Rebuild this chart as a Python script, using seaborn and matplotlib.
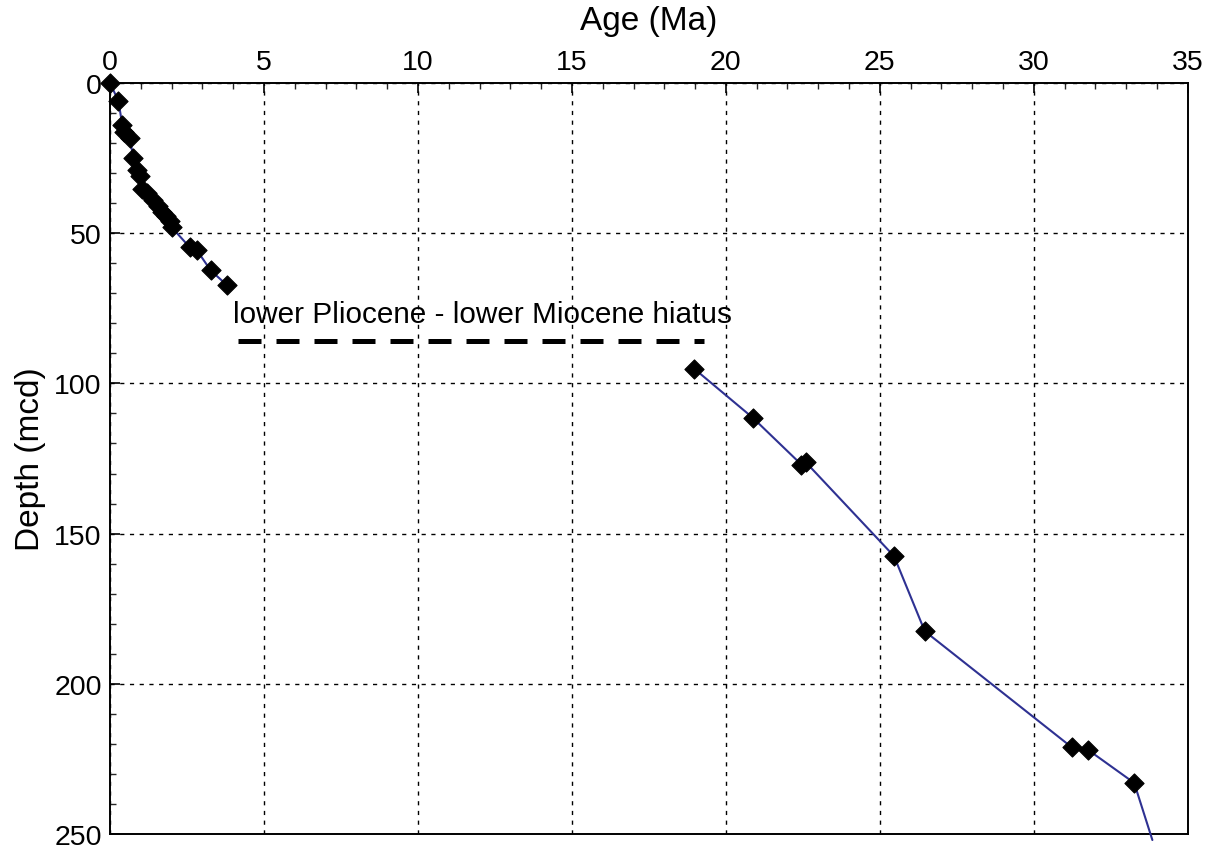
import matplotlib
matplotlib.use("Agg")
import matplotlib.pyplot as plt
import seaborn as sns
import pandas as pd
from matplotlib.ticker import MultipleLocator

# Upper (Pleistocene-Pliocene) datums
upper_age = [0.00, 0.27, 0.40, 0.45, 0.65, 0.75, 0.88, 0.98, 1.03, 1.19, 1.40, 1.55,
             1.70, 1.82, 1.94, 2.00, 2.59, 2.81, 3.27, 3.81]
upper_depth = [0.0, 5.9, 14.0, 16.4, 18.4, 24.8, 29.0, 31.0, 35.3, 36.5, 39.0, 40.9,
               43.0, 44.2, 45.8, 48.0, 54.7, 55.5, 62.4, 67.4]
# Lower (Miocene-Oligocene) datums
lower_age = [18.97, 20.87, 22.45, 22.60, 25.46, 26.46, 31.24, 31.75, 33.26]
lower_depth = [95.1, 111.4, 127.0, 126.3, 157.5, 182.5, 221.2, 221.9, 233.0]
# line continues beyond the plot bottom
tail_age = [33.85]
tail_depth = [252.0]

hiatus_age = [4.15, 19.30]
hiatus_depth = [85.9, 85.9]
hiatus_label = "lower Pliocene - lower Miocene hiatus"

xticks = [0, 5, 10, 15, 20, 25, 30, 35]
yticks = [0, 50, 100, 150, 200, 250]

sns.set_theme(style="white")
plt.rcParams['font.family'] = ['Liberation Sans', 'DejaVu Sans']

line_df = pd.DataFrame({
    "age": upper_age + lower_age + tail_age,
    "depth": upper_depth + lower_depth + tail_depth,
    "seg": ["u"] * len(upper_age) + ["l"] * (len(lower_age) + len(tail_age)),
})
pts_df = pd.DataFrame({"age": upper_age + lower_age, "depth": upper_depth + lower_depth})
hiatus_df = pd.DataFrame({"age": hiatus_age, "depth": hiatus_depth})

fig = plt.figure(figsize=(12.17, 8.53), dpi=100)
ax = fig.add_axes([0.0904, 0.0211, 0.8856, 0.8804])

sns.lineplot(data=line_df, x="age", y="depth", units="seg", estimator=None, sort=False,
             color="#2E3192", linewidth=1.5, ax=ax, clip_on=False, zorder=3)
sns.scatterplot(data=pts_df, x="age", y="depth", marker="D", s=95, color="black",
                edgecolor="black", linewidth=0.8, ax=ax, zorder=4, clip_on=False)
sns.lineplot(data=hiatus_df, x="age", y="depth", estimator=None, sort=False, color="black",
             linewidth=3.6, ax=ax, zorder=3)
ax.lines[-1].set_dashes((4.6, 3.0))

ax.text(3.98, 79.6, hiatus_label, fontsize=21.4, va="baseline", ha="left", color="black")

ax.set_xlim(0, 35)
ax.set_ylim(250, 0)
ax.set_xticks(xticks)
ax.set_yticks(yticks)
ax.xaxis.set_minor_locator(MultipleLocator(1))
ax.yaxis.set_minor_locator(MultipleLocator(10))
ax.xaxis.tick_top()
ax.xaxis.set_label_position("top")
ax.tick_params(axis="both", which="major", direction="in", length=7, width=1.2,
               labelsize=20.5, pad=6, colors="black")
ax.tick_params(axis="both", which="minor", direction="in", length=4, width=1.0)
ax.tick_params(axis="x", which="both", top=True, bottom=False)
ax.tick_params(axis="y", which="both", left=True, right=False)

ax.set_xlabel("Age (Ma)", fontsize=24, labelpad=14, color="black")
ax.set_ylabel("Depth (mcd)", fontsize=24, labelpad=6, color="black")

for s in ax.spines.values():
    s.set_color("black")
    s.set_linewidth(1.4)

ax.grid(True, which="major", color="black", linestyle=(0, (3, 4)), linewidth=1.0)
ax.set_axisbelow(True)

fig.savefig("out.png", dpi=100)
